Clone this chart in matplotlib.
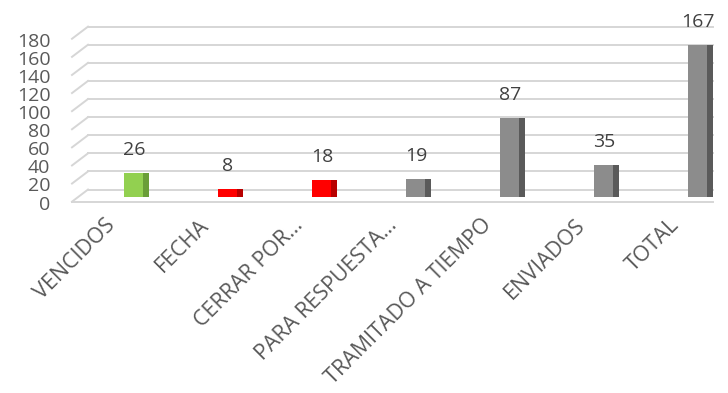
import matplotlib
matplotlib.use("Agg")
import matplotlib.pyplot as plt
from matplotlib.transforms import blended_transform_factory, ScaledTranslation

plt.rcParams['font.family'] = ['Open Sans', 'DejaVu Sans']

categories = ["VENCIDOS", "FECHA", "CERRAR POR…", "PARA RESPUESTA…",
              "TRAMITADO A TIEMPO", "ENVIADOS", "TOTAL"]
values = [26, 8, 18, 19, 87, 35, 167]
face_colors = ["#92d050", "#ff0000", "#ff0000", "#8c8c8c", "#8c8c8c", "#8c8c8c", "#8c8c8c"]
side_colors = ["#6a9e38", "#b80000", "#b80000", "#5a5a5a", "#5a5a5a", "#5a5a5a", "#5a5a5a"]
yticks = [0, 20, 40, 60, 80, 100, 120, 140, 160, 180]

W, H = 728, 393
fig = plt.figure(figsize=(W / 100, H / 100), dpi=100)
ax = fig.add_axes([88 / W, (H - 196.5) / H, 625 / W, 162.9 / H])
ax.set_ylim(0, 180)
ax.set_xlim(-0.517, 6.13)

# 3D-like gridlines (back wall + left diagonal)
bt = blended_transform_factory(ax.transAxes, ax.transData)
grid_c = "#d6d6d6"
for v in yticks:
    ax.plot([0, 1], [v + 7.7, v + 7.7], transform=bt, color=grid_c, lw=1.4,
            clip_on=False, zorder=0)
    ax.plot([-0.0256, 0], [v - 5.7, v + 7.7], transform=bt, color=grid_c, lw=1.4,
            clip_on=False, zorder=0)
# floor front edge
ax.plot([-0.0256, 1], [-5.7, -5.7], transform=bt, color=grid_c, lw=1.4,
        clip_on=False, zorder=0)

x = list(range(len(categories)))
face_w = 0.2
side_w = 0.066
xf = [i - (face_w + side_w) / 2 + face_w / 2 for i in x]
xs = [i + (face_w + side_w) / 2 - side_w / 2 for i in x]
ax.bar(xf, values, width=face_w, color=face_colors, zorder=3, linewidth=0)
ax.bar(xs, values, width=side_w, color=side_colors, zorder=3, linewidth=0)

for i, v in zip(x, values):
    ax.annotate(str(v), (i, v), xytext=(-2, 10), textcoords="offset points",
                ha="center", va="bottom", fontsize=14, color="#404040")

ax.set_yticks(yticks)
ax.set_yticklabels([str(t) for t in yticks])
ax.set_xticks(x)
ax.set_xticklabels(categories, rotation=45, ha="right", rotation_mode="anchor")
ax.tick_params(axis="y", length=0, pad=27, labelsize=14, labelcolor="#595959")
ax.tick_params(axis="x", length=0, pad=13, labelsize=15.5, labelcolor="#595959")
for lab in ax.get_yticklabels():
    lab.set_transform(lab.get_transform() + ScaledTranslation(0, -0.06, fig.dpi_scale_trans))
for lab in ax.get_xticklabels():
    lab.set_transform(lab.get_transform() + ScaledTranslation(-0.32, 0, fig.dpi_scale_trans))

for s in ax.spines.values():
    s.set_visible(False)
ax.set_facecolor("none")

fig.savefig("out.png", dpi=100)
